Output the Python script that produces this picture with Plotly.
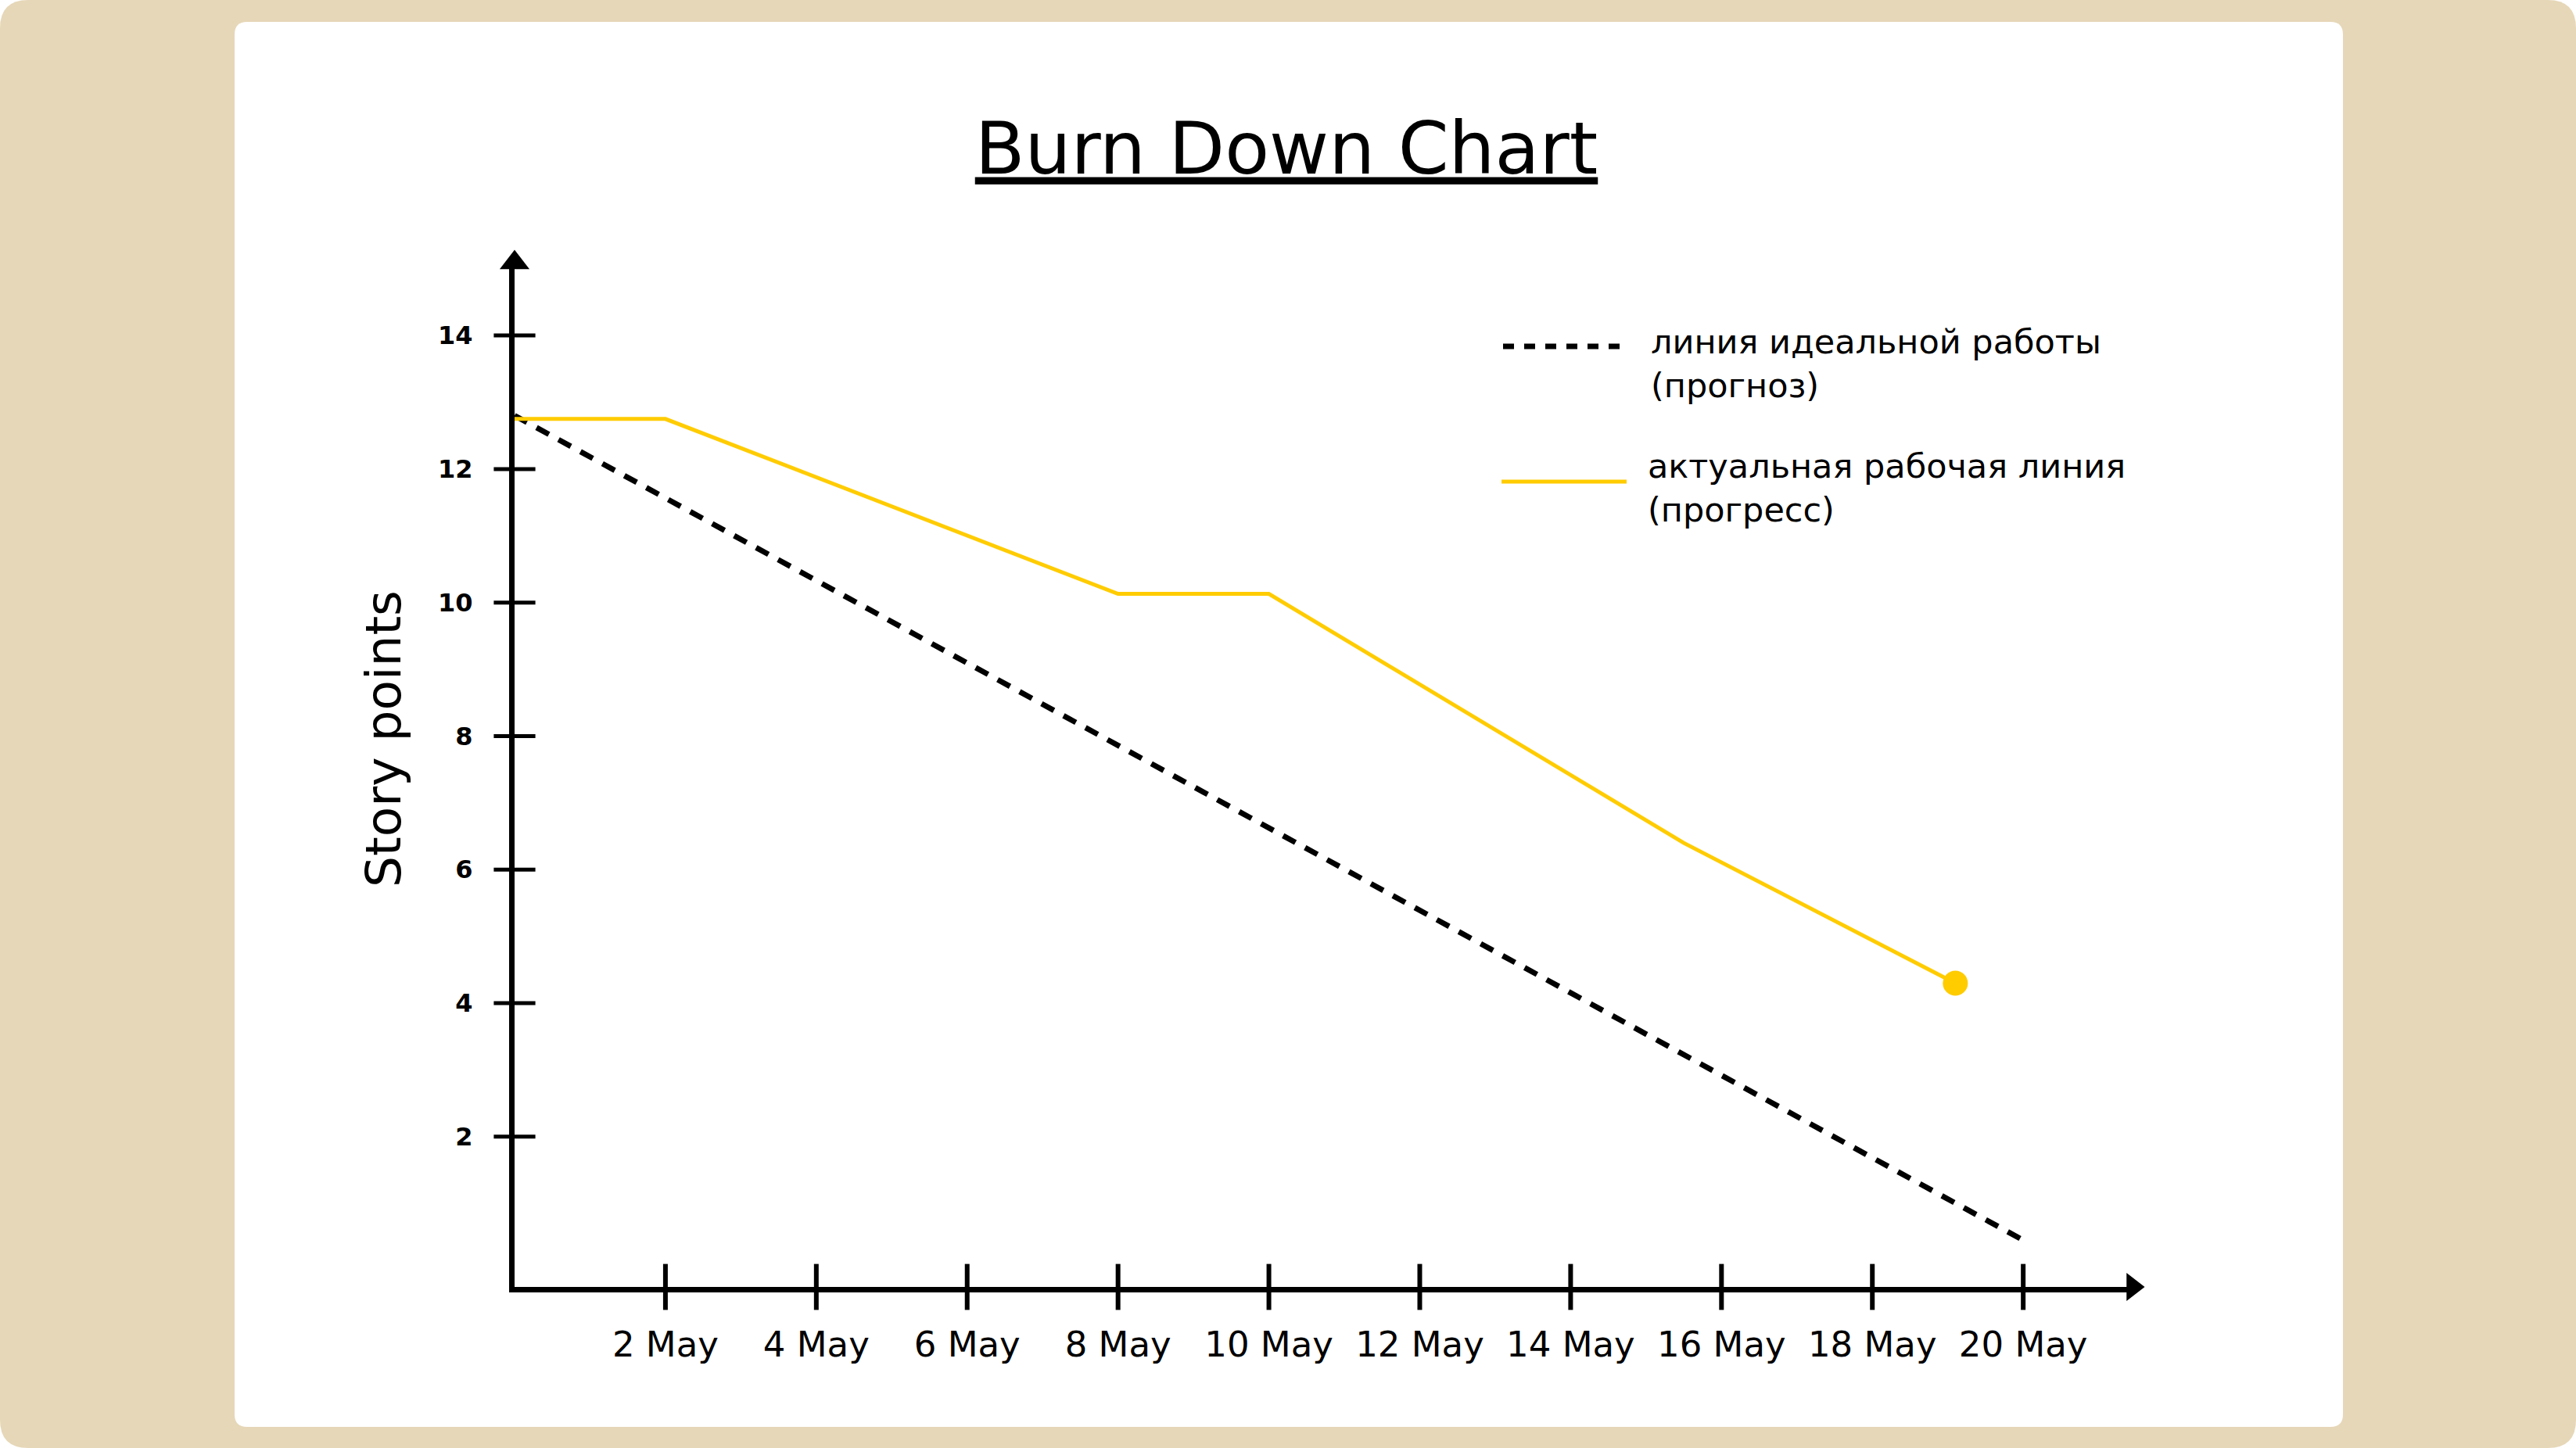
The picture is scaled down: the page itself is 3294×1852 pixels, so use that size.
import plotly.graph_objects as go

# ---------------- data ----------------
tick_days = [2, 4, 6, 8, 10, 12, 14, 16, 18, 20]
tick_labels = ["2 May", "4 May", "6 May", "8 May", "10 May",
               "12 May", "14 May", "16 May", "18 May", "20 May"]
y_ticks = [2, 4, 6, 8, 10, 12, 14]

ideal_days = [0, 20]
ideal_points = [12.8, 0.45]

actual_days = [0, 2, 8, 10, 15.5, 19.1]
actual_points = [12.75, 12.75, 10.13, 10.13, 6.4, 4.3]

ideal_name = "линия идеальной работы<br>(прогноз)"
actual_name = "актуальная рабочая линия<br>(прогресс)"

# ---------------- layout geometry ----------------
W, H = 3294, 1852
L, R, T, B = 658, 2727, 336, 1646
X_MIN, X_MAX = 0, 21.45
Y_MIN, Y_MAX = -0.25, 15.09

BEIGE = "#E6D7B8"
YELLOW = "#FFCC00"
FONT = "DejaVu Sans"


def pp(px, py):
    return (px - L) / (R - L), (B - py) / (B - T)


def rounded_rect(x0, y0, x1, y1, r):
    pts = [
        ("M", [(x0 + r, y0)]),
        ("L", [(x1 - r, y0)]),
        ("Q", [(x1, y0), (x1, y0 + r)]),
        ("L", [(x1, y1 - r)]),
        ("Q", [(x1, y1), (x1 - r, y1)]),
        ("L", [(x0 + r, y1)]),
        ("Q", [(x0, y1), (x0, y1 - r)]),
        ("L", [(x0, y0 + r)]),
        ("Q", [(x0, y0), (x0 + r, y0)]),
    ]
    s = ""
    for cmd, ps in pts:
        s += cmd + " ".join("%.6f,%.6f" % pp(*p) for p in ps) + " "
    return s + "Z"


fig = go.Figure()

# ideal line
fig.add_trace(go.Scatter(
    x=ideal_days, y=ideal_points, mode="lines",
    line=dict(color="black", width=7, dash="18px,14px"),
    showlegend=False, cliponaxis=False, hoverinfo="skip"))

# actual line
fig.add_trace(go.Scatter(
    x=actual_days, y=actual_points, mode="lines",
    line=dict(color=YELLOW, width=5),
    showlegend=False, cliponaxis=False, hoverinfo="skip"))

# end point of actual line
fig.add_trace(go.Scatter(
    x=actual_days[-1:], y=actual_points[-1:], mode="markers",
    marker=dict(color=YELLOW, size=32),
    showlegend=False, cliponaxis=False, hoverinfo="skip"))

# crossing tick marks on x axis
fig.add_trace(go.Scatter(
    x=tick_days, y=[Y_MIN] * len(tick_days), mode="markers",
    marker=dict(symbol="line-ns-open", size=42, color="black",
                line=dict(color="black", width=6)),
    showlegend=False, cliponaxis=False, hoverinfo="skip"))

# crossing tick marks on y axis
fig.add_trace(go.Scatter(
    x=[X_MIN] * len(y_ticks), y=y_ticks, mode="markers",
    marker=dict(symbol="line-ew-open", size=38, color="black",
                line=dict(color="black", width=5)),
    showlegend=False, cliponaxis=False, hoverinfo="skip"))

# axis arrows
fig.add_trace(go.Scatter(
    x=[X_MAX], y=[Y_MIN], mode="markers",
    marker=dict(symbol="triangle-right", size=31, color="black"),
    showlegend=False, cliponaxis=False, hoverinfo="skip"))
fig.add_trace(go.Scatter(
    x=[X_MIN], y=[Y_MAX], mode="markers",
    marker=dict(symbol="triangle-up", size=33, color="black"),
    showlegend=False, cliponaxis=False, hoverinfo="skip"))

shapes = [
    dict(type="path", xref="paper", yref="paper", layer="below",
         path=rounded_rect(0, 0, W, H, 36), fillcolor=BEIGE, line=dict(width=0)),
    dict(type="path", xref="paper", yref="paper", layer="below",
         path=rounded_rect(300, 28, 2996, 1825, 16), fillcolor="white", line=dict(width=0)),
]

# manual legend swatches
lx0, ly0 = pp(1922, 443)
lx1, _ = pp(2080, 443)
shapes.append(dict(type="line", xref="paper", yref="paper", x0=lx0, x1=lx1, y0=ly0, y1=ly0,
                   line=dict(color="black", width=7, dash="14px,13px")))
lx0, ly1 = pp(1920, 616)
shapes.append(dict(type="line", xref="paper", yref="paper", x0=lx0, x1=lx1, y0=ly1, y1=ly1,
                   line=dict(color=YELLOW, width=5)))

annotations = []
for name, px, py in [(ideal_name, 2109, 465), (actual_name, 2105, 624)]:
    ax_, ay_ = pp(px, py)
    annotations.append(dict(
        text=name, x=ax_, y=ay_, xref="paper", yref="paper",
        xanchor="left", yanchor="middle", align="left", showarrow=False,
        font=dict(family=FONT, size=43, color="black")))

# y axis title
tx, ty = pp(490, 945)
annotations.append(dict(
    text="Story points", x=tx, y=ty, xref="paper", yref="paper",
    textangle=-90, xanchor="center", yanchor="middle", showarrow=False,
    font=dict(family=FONT, size=63, color="black")))

fig.update_layout(
    width=W, height=H,
    margin=dict(l=L, r=W - R, t=T, b=H - B, pad=0),
    paper_bgcolor="white",
    plot_bgcolor="rgba(0,0,0,0)",
    title=dict(text="<u>Burn Down Chart</u>", x=1645 / W, xanchor="center",
               y=1 - 189 / H, yanchor="middle", yref="container",
               font=dict(family=FONT, size=93, color="black")),
    xaxis=dict(range=[X_MIN, X_MAX], showgrid=False, zeroline=False,
               showline=True, linecolor="black", linewidth=7,
               tickmode="array", tickvals=tick_days, ticktext=tick_labels,
               ticks="", ticklabelstandoff=28,
               tickfont=dict(family=FONT, size=45, color="black")),
    yaxis=dict(range=[Y_MIN, Y_MAX], showgrid=False, zeroline=False,
               showline=True, linecolor="black", linewidth=7,
               tickmode="array", tickvals=y_ticks,
               ticks="", ticklabelstandoff=40,
               tickfont=dict(family=FONT, size=32, color="black", weight="bold")),
    shapes=shapes,
    annotations=annotations,
    showlegend=False,
)

fig.write_html("out.html")
